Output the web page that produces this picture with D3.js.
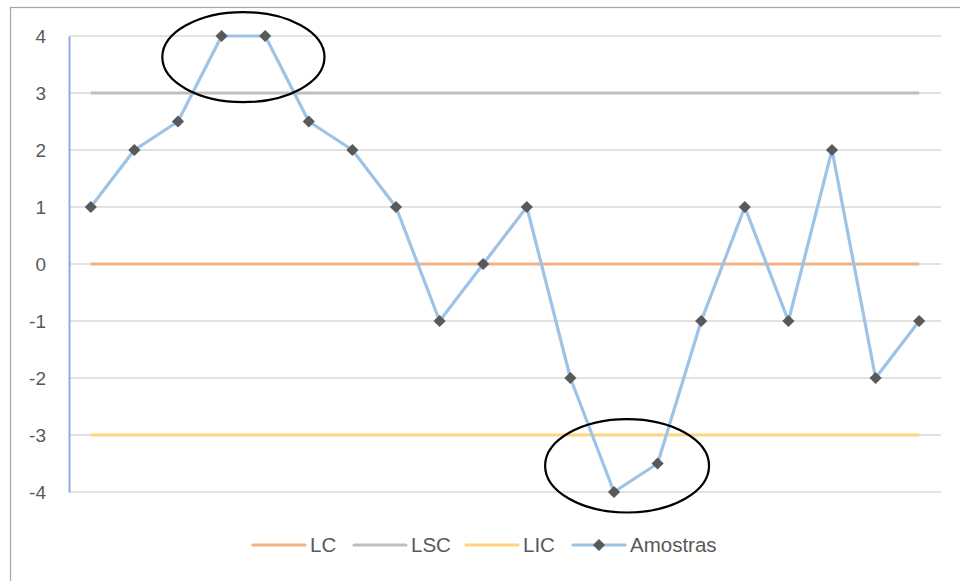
<!DOCTYPE html>
<html>
<head>
<meta charset="utf-8">
<script src="https://cdn.jsdelivr.net/npm/d3@7"></script>
<style>
  html, body { margin: 0; padding: 0; background: #fff; }
  svg { display: block; font-family: "Liberation Sans", Arial, sans-serif; }
</style>
</head>
<body>
<svg id="chart" width="960" height="581"></svg>
<script>
// Sample measurements and control limits
const samples = [1, 2, 2.5, 4, 4, 2.5, 2, 1, -1, 0, 1, -2, -4, -3.5, -1, 1, -1, 2, -2, -1];
const lcValue = 0;
const lscValue = 3;
const licValue = -3;
const yTicks = [-4, -3, -2, -1, 0, 1, 2, 3, 4];

// Highlighted regions (category position, value, radii in category / value units)
const highlightCx = [3.5, 12.3];
const highlightCy = [3.63, -3.54];
const highlightRx = [1.86, 1.88];
const highlightRy = [0.79, 0.82];

const seriesNames = ["LC", "LSC", "LIC", "Amostras"];
const seriesColors = ["#f4b183", "#bfbfbf", "#ffd47f", "#9dc3e6"];

const svg = d3.select("#chart");
const W = 960, H = 581;
const plot = { left: 69, right: 941, top: 36, bottom: 492 };

// Outer frame
svg.append("rect")
  .attr("x", 10.5).attr("y", 7.5)
  .attr("width", W).attr("height", H)
  .attr("fill", "none").attr("stroke", "#a6a6a6").attr("stroke-width", 1.2);

const idx = d3.range(samples.length);
const x = d3.scaleBand().domain(idx).range([plot.left, plot.right]);
const xc = i => x(0) + x.bandwidth() * (i + 0.5);
const y = d3.scaleLinear().domain([-4, 4]).range([plot.bottom, plot.top]);

// Horizontal gridlines
svg.append("g")
  .selectAll("line").data(yTicks).join("line")
  .attr("x1", plot.left).attr("x2", plot.right)
  .attr("y1", d => y(d)).attr("y2", d => y(d))
  .attr("stroke", "#d9d9d9").attr("stroke-width", 1.5);

// Y axis
const yAxis = svg.append("g")
  .attr("transform", `translate(${plot.left},0)`)
  .call(d3.axisLeft(y).tickValues(yTicks).tickSize(0).tickPadding(23).tickFormat(d => String(d)));
yAxis.select(".domain").attr("stroke", "#8faadc").attr("stroke-width", 2);
yAxis.selectAll("text")
  .attr("fill", "#595959")
  .style("font-size", "19px")
  .style("font-family", "'Liberation Sans', Arial, sans-serif");

// Control limit lines
const limits = [lcValue, lscValue, licValue];
svg.append("g")
  .selectAll("line").data(limits).join("line")
  .attr("x1", xc(0)).attr("x2", xc(samples.length - 1))
  .attr("y1", d => y(d)).attr("y2", d => y(d))
  .attr("stroke", (d, i) => seriesColors[i])
  .attr("stroke-width", 3.2);

// Sample series
const line = d3.line().x((d, i) => xc(i)).y(d => y(d));
svg.append("path")
  .datum(samples)
  .attr("d", line)
  .attr("fill", "none")
  .attr("stroke", seriesColors[3])
  .attr("stroke-width", 3.2)
  .attr("stroke-linejoin", "round");

const diamond = d3.symbol().type(d3.symbolDiamond2).size(95);
svg.append("g")
  .selectAll("path").data(samples).join("path")
  .attr("transform", (d, i) => `translate(${xc(i)},${y(d)})`)
  .attr("d", diamond)
  .attr("fill", "#595959");

// Highlight ellipses
const bw = x.bandwidth();
const unit = y(0) - y(1);
svg.append("g")
  .selectAll("ellipse").data(highlightCx).join("ellipse")
  .attr("cx", (d) => xc(d))
  .attr("cy", (d, i) => y(highlightCy[i]))
  .attr("rx", (d, i) => highlightRx[i] * bw)
  .attr("ry", (d, i) => highlightRy[i] * unit)
  .attr("fill", "none")
  .attr("stroke", "#000")
  .attr("stroke-width", 2.2);

// Legend
const legendX = [253, 354, 466, 573];
const legendY = 545;
const lg = svg.append("g");
seriesNames.forEach((name, i) => {
  const g = lg.append("g").attr("transform", `translate(${legendX[i]},${legendY})`);
  g.append("line")
    .attr("x1", 0).attr("x2", 52).attr("y1", 0).attr("y2", 0)
    .attr("stroke", seriesColors[i]).attr("stroke-width", 3.2).attr("stroke-linecap", "round");
  if (i === 3) {
    g.append("path").attr("transform", "translate(26,0)").attr("d", diamond).attr("fill", "#595959");
  }
  g.append("text")
    .attr("x", 57).attr("y", 0).attr("dy", "0.35em")
    .attr("fill", "#595959")
    .style("font-size", "20.5px")
    .text(name);
});
</script>
</body>
</html>
